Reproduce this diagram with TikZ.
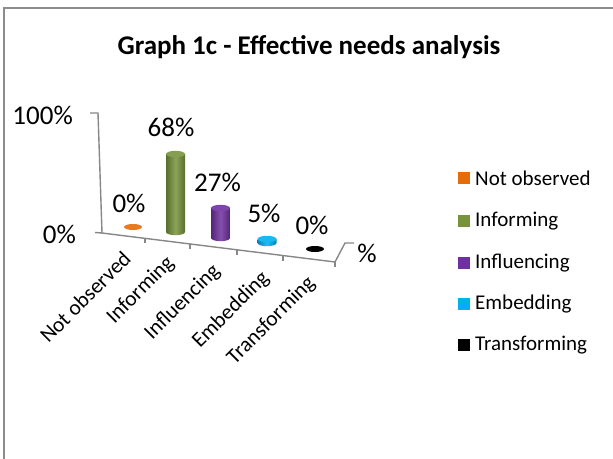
\documentclass[tikz,border=0pt]{standalone}
\usepackage{fontspec}
\setmainfont{Carlito}
\definecolor{axisgray}{HTML}{878787}
\definecolor{framegray}{HTML}{8C8C8C}
\definecolor{cOrange}{HTML}{E46C0A}
\definecolor{cGreen}{HTML}{77933C}
\definecolor{cPurple}{HTML}{7030A0}
\definecolor{cBlue}{HTML}{00B0F0}
\definecolor{cBlack}{HTML}{000000}
\newcommand{\mycyl}[4]{% x, ytop, ybot, color
  \shade[left color=#4!75!black, right color=#4!75!black, middle color=#4!85!white]
    (#1-9.5,#2) -- (#1-9.5,#3) arc[start angle=180,end angle=0,x radius=9.5,y radius=3.2] -- (#1+9.5,#2) -- cycle;
  \fill[#4!90!white] (#1,#2) ellipse[x radius=9.5,y radius=3.2];
}
\begin{document}
\begin{tikzpicture}[x=1pt,y=-1pt,
  axisline/.style={draw=axisgray,line width=1.4pt},
  datalbl/.style={font=\fontsize{27}{30}\selectfont,inner sep=0pt},
  catlbl/.style={font=\fontsize{21.5}{24}\selectfont,rotate=45,anchor=east,inner sep=0pt},
  leglbl/.style={font=\fontsize{21}{24}\selectfont,anchor=west,inner sep=0pt},
  legsq/.style={minimum size=12pt,inner sep=0pt}]
\useasboundingbox (0,0) rectangle (613,458);
% frame
\draw[framegray,line width=2pt] (4,470) -- (4,7.5) -- (620,7.5);
% title
\node[font=\fontsize{27}{30}\selectfont\bfseries] (title) at (309,47) {Graph 1c - Effective needs analysis};
% axes
\coordinate (ytopt) at (90,113);
\coordinate (ytop) at (98,113);
\coordinate (org) at (102,233);
\coordinate (ybt) at (95,232.5);
\coordinate (xend) at (335,262);
\coordinate (zup) at (345,243);
\coordinate (zend) at (354,243);
\draw[axisline] (ytopt) -- (ytop) -- (org) -- (xend) -- (zup) -- (zend);
\draw[axisline] (ybt) -- (org);
\foreach \x in {145,190,237,283,335}{
  \draw[axisline] (\x,{233+0.1245*(\x-102)}) -- ++(0,5);
}
% bars
\fill[cOrange!90!white] (133,227) ellipse[x radius=9,y radius=3];
\mycyl{175.5}{154}{232}{cGreen}
\mycyl{220.5}{208}{238}{cPurple}
\mycyl{267}{239}{243}{cBlue}
\fill[cBlack] (315,249) ellipse[x radius=9,y radius=3];
% axis labels
\node[datalbl,anchor=east] (l100) at (73,115) {100\%};
\node[datalbl,anchor=east] (l0) at (76,234) {0\%};
% data labels
\node[datalbl] (d1) at (129,203) {0\%};
\node[datalbl] (d2) at (171,127) {68\%};
\node[datalbl] (d3) at (217.5,182) {27\%};
\node[datalbl] (d4) at (264,213) {5\%};
\node[datalbl] (d5) at (312,225) {0\%};
\node[datalbl] (dz) at (367,253) {\%};
% category labels
\node[catlbl] (c1) at (127,255) {Not observed};
\node[catlbl] (c2) at (171,260) {Informing};
\node[catlbl] (c3) at (217,268) {Influencing};
\node[catlbl] (c4) at (266,275) {Embedding};
\node[catlbl] (c5) at (312,280) {Transforming};
% legend
\node[legsq,fill=cOrange] (s1) at (464,178) {};
\node[leglbl] (t1) at (475,178) {Not observed};
\node[legsq,fill=cGreen] (s2) at (464,221) {};
\node[leglbl] (t2) at (475,221) {Informing};
\node[legsq,fill=cPurple] (s3) at (464,263) {};
\node[leglbl] (t3) at (475,263) {Influencing};
\node[legsq,fill=cBlue] (s4) at (464,304) {};
\node[leglbl] (t4) at (475,304) {Embedding};
\node[legsq,fill=cBlack] (s5) at (464,345) {};
\node[leglbl] (t5) at (475,345) {Transforming};
\end{tikzpicture}
\end{document}
